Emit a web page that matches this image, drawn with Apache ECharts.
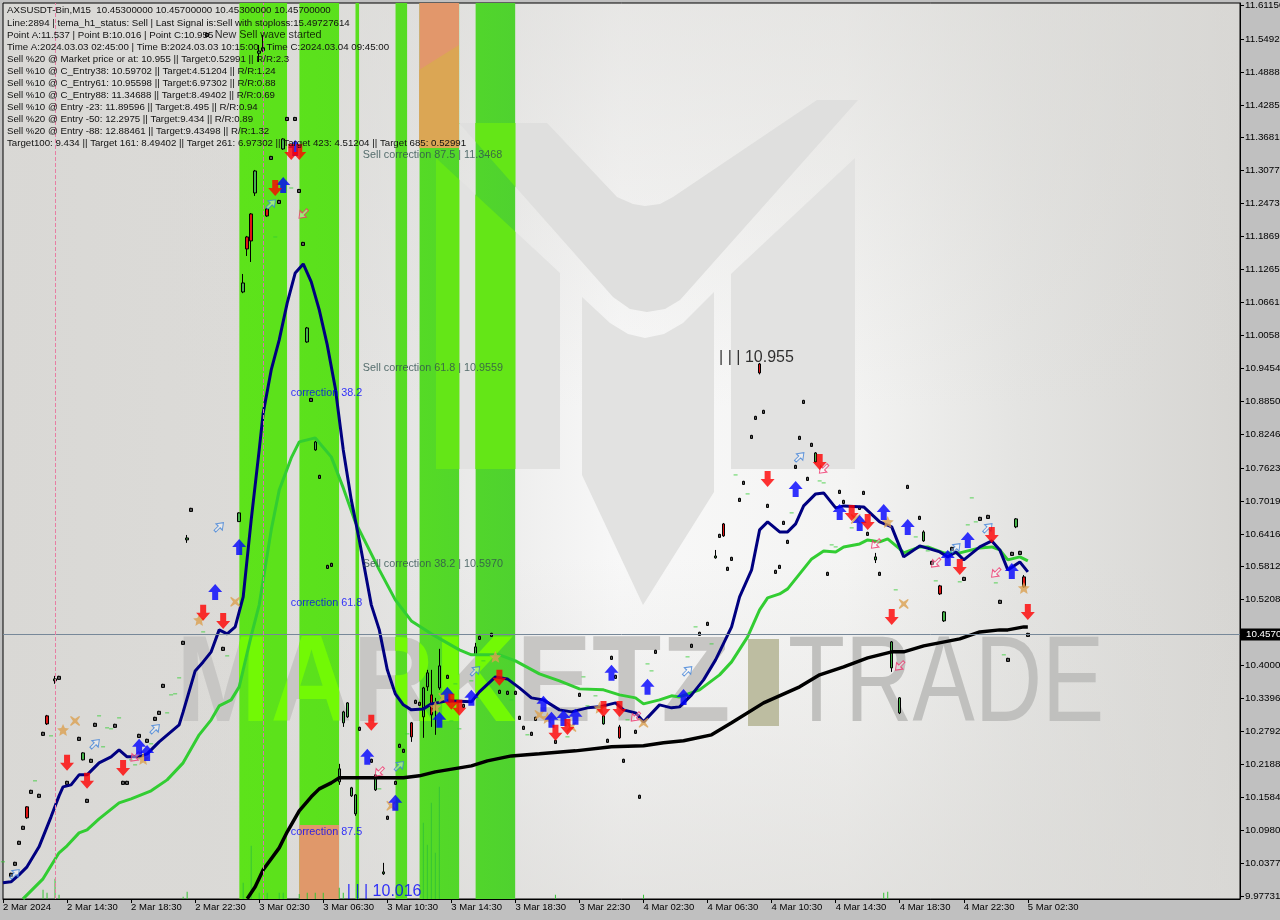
<!DOCTYPE html>
<html><head><meta charset="utf-8">
<script src="https://cdn.jsdelivr.net/npm/echarts@6/dist/echarts.min.js"></script>
<style>html,body{margin:0;padding:0;background:#c0c0c0}#c{width:1280px;height:920px}</style>
</head><body><div id="c"></div>
<script>
// ---------- data ----------
const barCount = 310;
const timeLabels = ['2 Mar 2024','2 Mar 14:30','2 Mar 18:30','2 Mar 22:30','3 Mar 02:30','3 Mar 06:30','3 Mar 10:30','3 Mar 14:30','3 Mar 18:30','3 Mar 22:30','4 Mar 02:30','4 Mar 06:30','4 Mar 10:30','4 Mar 14:30','4 Mar 18:30','4 Mar 22:30','5 Mar 02:30'];
const priceTicks = [11.6115,11.5492,11.4888,11.4285,11.3681,11.3077,11.2473,11.1869,11.1265,11.0661,11.0058,10.9454,10.8850,10.8246,10.7623,10.7019,10.6416,10.5812,10.5208,10.4000,10.3396,10.2792,10.2188,10.1584,10.0980,10.0377,9.97731];
const lastPrice = 10.457;
const infoLines = [
'AXSUSDT-Bin,M15  10.45300000 10.45700000 10.45300000 10.45700000',
'Line:2894 | tema_h1_status: Sell | Last Signal is:Sell with stoploss:15.49727614',
'Point A:11.537 | Point B:10.016 | Point C:10.955',
'Time A:2024.03.03 02:45:00 | Time B:2024.03.03 10:15:00 | Time C:2024.03.04 09:45:00',
'Sell %20 @ Market price or at: 10.955 || Target:0.52991 || R/R:2.3',
'Sell %10 @ C_Entry38: 10.59702 || Target:4.51204 || R/R:1.24',
'Sell %10 @ C_Entry61: 10.95598 || Target:6.97302 || R/R:0.88',
'Sell %10 @ C_Entry88: 11.34688 || Target:8.49402 || R/R:0.69',
'Sell %10 @ Entry -23: 11.89596 || Target:8.495 || R/R:0.94',
'Sell %20 @ Entry -50: 12.2975 || Target:9.434 || R/R:0.89',
'Sell %20 @ Entry -88: 12.88461 || Target:9.43498 || R/R:1.32',
'Target100: 9.434 || Target 161: 8.49402 || Target 261: 6.97302 || Target 423: 4.51204 || Target 685: 0.52991'];
const bandStart = [59,74,88,98,104,118];
const bandEnd   = [71,84,89,101,114,128];
const signalBars = [13,65];

const navyBars = [0,2,4,6,9,12,14,15,17,19,21,24,27,29,31,34,36,39,44,45,48,50,52,54,56,58,60,62,64,65,67,69,71,73,75,77,79,81,83,85,87,89,92,94,96,98,100,102,105,107,111,117,119,123,126,129,132,135,139,142,146,149,153,155,158,160,164,167,169,172,175,178,182,184,187,189,191,194,196,198,200,203,205,208,210,215,219,222,225,229,234,236,238,240,244,247,249,251,254,256];
const navyVals = [10.0015,10.0033,10.0161,10.0308,10.0675,10.1225,10.1610,10.1775,10.1812,10.1995,10.1995,10.2215,10.2325,10.2453,10.2325,10.2325,10.2380,10.2600,10.2912,10.3150,10.3902,10.4067,10.4251,10.4654,10.4581,10.4709,10.5259,10.6671,10.7955,10.8633,10.9422,10.9972,11.0651,11.1201,11.1366,11.1036,11.0522,10.9880,10.9092,10.7955,10.7038,10.6304,10.5113,10.4654,10.3921,10.3480,10.3279,10.3187,10.3205,10.3297,10.3352,10.3334,10.3517,10.3792,10.3755,10.3590,10.3407,10.3370,10.3187,10.3150,10.3224,10.3242,10.3315,10.3187,10.3132,10.2967,10.3279,10.3224,10.3242,10.3462,10.3737,10.4104,10.4709,10.5259,10.5754,10.6488,10.6635,10.6451,10.6451,10.6598,10.6928,10.7148,10.7166,10.6891,10.6928,10.6910,10.6635,10.6543,10.5993,10.6194,10.6084,10.5993,10.6084,10.5938,10.6176,10.6286,10.6121,10.5754,10.5901,10.5718];
const greenBars = [5,10,14,16,19,21,24,29,32,37,41,45,49,52,54,57,59,62,64,67,69,72,74,78,82,85,88,90,94,98,102,107,114,117,124,128,134,139,144,150,154,158,160,164,167,169,174,179,182,186,189,191,194,196,199,202,205,208,210,214,216,219,221,224,225,229,231,235,239,244,247,249,251,254,256];
const greenVals = [9.9721,10.0088,10.0565,10.0693,10.0931,10.0986,10.1188,10.1482,10.1555,10.1702,10.1903,10.2215,10.2729,10.3004,10.3260,10.3370,10.3609,10.4544,10.5113,10.6488,10.7221,10.7808,10.8102,10.8175,10.7827,10.7258,10.6635,10.6341,10.5754,10.5204,10.4819,10.4581,10.4287,10.4196,10.4196,10.4086,10.3847,10.3719,10.3572,10.3554,10.3462,10.3407,10.3297,10.3370,10.3444,10.3425,10.3554,10.3829,10.4067,10.4526,10.5021,10.5241,10.5314,10.5406,10.5681,10.5956,10.6103,10.6084,10.6176,10.6231,10.6304,10.6268,10.6323,10.6139,10.6066,10.6176,10.6176,10.6066,10.6066,10.6158,10.6176,10.6121,10.5938,10.5993,10.5919];
const blackBars = [61,63,65,69,71,74,77,79,82,84,89,100,104,108,117,121,127,134,143,152,160,165,170,177,182,190,199,204,210,216,222,225,230,239,244,249,251,255,256];
const blackVals = [9.9721,9.9941,10.0253,10.0656,10.0950,10.1335,10.1592,10.1738,10.1848,10.1940,10.1940,10.1940,10.1977,10.2050,10.2160,10.2252,10.2343,10.2380,10.2435,10.2509,10.2527,10.2582,10.2619,10.2729,10.2949,10.3315,10.3609,10.3829,10.3976,10.4141,10.4251,10.4251,10.4361,10.4489,10.4617,10.4654,10.4654,10.4709,10.4709];

// bar, open, close, low, high
const candlesA = [
[6,10.1408,10.1207,10.1190,10.1420],[11,10.3077,10.2930,10.2910,10.3095],[13,10.3720,10.3755,10.3665,10.3810],[20,10.2270,10.2398,10.2260,10.2410],[46,10.6305,10.6340,10.6250,10.6395],
[59,10.6640,10.6800,10.6640,10.6810],[60,11.0852,11.1017,11.0830,11.1182],[61,11.1861,11.1641,11.1512,11.1880],[62,11.2283,11.1788,11.1402,11.2300],[63,11.2668,11.3071,11.2613,11.3090],[64,11.5230,11.5270,11.5070,11.5382],[65,11.5280,11.5330,11.5260,11.5565],[66,11.2374,11.2246,11.2230,11.2390],
[70,11.3475,11.3658,11.3460,11.3670],[76,10.9935,11.0192,10.9920,11.0210],[78,10.7955,10.8102,10.7940,10.8120],
[84,10.1867,10.2105,10.1812,10.2197],[85,10.2949,10.3150,10.2875,10.3170],[86,10.3059,10.3315,10.3040,10.3330],[87,10.1610,10.1757,10.1590,10.1775],[88,10.1280,10.1628,10.1243,10.1640],[93,10.1720,10.1995,10.1700,10.2010],[95,10.0180,10.0215,10.0160,10.0381],
[102,10.2949,10.2692,10.2600,10.2965],[105,10.3059,10.3590,10.2674,10.3609],[106,10.3609,10.3866,10.3535,10.3921],[107,10.3462,10.3095,10.2875,10.3921],[108,10.3279,10.3315,10.2729,10.3407],[109,10.3590,10.3994,10.3554,10.4306],
[118,10.4196,10.4342,10.4180,10.4416],[150,10.2930,10.3077,10.2915,10.3090],[154,10.2875,10.2674,10.2655,10.2912],
[178,10.5975,10.6010,10.5960,10.6120],[180,10.6598,10.6378,10.6360,10.6615],[189,10.9532,10.9367,10.9340,10.9550],
[203,10.7735,10.7900,10.7715,10.7915],[218,10.5938,10.5993,10.5880,10.6066],[222,10.3957,10.4434,10.3884,10.4450],[224,10.3132,10.3407,10.3110,10.3420],[230,10.6286,10.6451,10.6270,10.6480],[234,10.5461,10.5314,10.5295,10.5480],[235,10.4819,10.4984,10.4800,10.5000],
[253,10.6543,10.6690,10.6520,10.6705],[255,10.5626,10.5443,10.5425,10.5660]];
const tinyBars = [2,3,4,5,7,9,10,14,16,19,21,22,23,28,30,31,34,36,38,39,40,45,47,51,55,67,69,71,73,74,75,77,79,81,82,89,92,96,98,99,100,103,104,111,115,119,122,124,126,128,129,130,132,133,138,144,151,152,153,155,158,159,163,172,174,176,179,181,182,184,185,187,188,190,191,193,194,195,196,198,199,200,201,202,206,209,210,214,215,216,219,226,229,232,237,240,244,246,249,251,252,254,256];
const tinyVals = [10.0161,10.0363,10.0748,10.1023,10.1683,10.1610,10.2747,10.3774,10.1848,10.2655,10.1518,10.2252,10.2912,10.2894,10.1848,10.1848,10.2710,10.2619,10.3022,10.3132,10.3627,10.4416,10.6855,11.5565,10.4306,11.3310,11.2503,11.4025,11.4025,11.2704,11.1733,10.8872,10.7460,10.5809,10.5846,10.2839,10.2252,10.1207,10.1848,10.2527,10.2435,10.3334,10.3297,10.3792,10.3260,10.4507,10.4562,10.3517,10.3499,10.3499,10.3040,10.2857,10.2747,10.3022,10.2600,10.3462,10.2619,10.4141,10.3792,10.2252,10.2784,10.1592,10.4251,10.4361,10.4581,10.4764,10.6378,10.5773,10.5956,10.7038,10.7350,10.8193,10.8542,10.8652,10.6928,10.5718,10.5809,10.6616,10.6268,10.7643,10.8175,10.8835,10.7423,10.8047,10.5681,10.7185,10.7001,10.6891,10.7166,10.6415,10.5681,10.7276,10.6708,10.5883,10.6139,10.5589,10.6690,10.6726,10.5168,10.4104,10.6048,10.6066,10.4562];
const volumeBars = [10,11,13,14,45,46,60,62,64,66,69,70,74,76,78,80,84,85,105,106,107,108,109,138,160,220,221];
const volumeTops = [9.9886,9.9831,10.0088,9.9794,9.9758,9.9849,10.0015,10.0693,9.9831,9.9831,9.9831,9.9831,9.9812,9.9831,9.9831,9.9831,9.9923,9.9831,10.1115,10.0711,10.1482,10.0565,10.1775,9.9794,9.9794,9.9831,9.9849];

const sellBars = [16,21,30,50,55,68,72,74,92,112,114,124,138,141,150,154,191,204,212,216,222,239,247,256];
const sellVals = [10.2215,10.1885,10.2123,10.4966,10.4819,11.2759,11.3420,11.3420,10.2949,10.3334,10.3224,10.3774,10.2765,10.2875,10.3205,10.3205,10.7423,10.7735,10.6800,10.6635,10.4892,10.5809,10.6396,10.4984];
const buyBars = [34,36,53,59,70,73,91,98,109,111,117,135,137,140,143,152,161,170,198,209,214,220,226,236,241,252];
const buyVals = [10.2509,10.2398,10.5351,10.6176,11.2814,11.3493,10.2325,10.1482,10.3004,10.3462,10.3407,10.3297,10.3004,10.3040,10.3059,10.3866,10.3609,10.3425,10.7240,10.6818,10.6616,10.6818,10.6543,10.5974,10.6304,10.5736];
const hollowUpBars = [3,23,38,54,67,99,118,171,199,238,246];
const hollowUpVals = [10.0180,10.2564,10.2839,10.6543,11.2466,10.2160,10.3902,10.3902,10.7826,10.6158,10.6525];
const hollowDownBars = [33,75,94,158,205,218,224,233,248];
const hollowDownVals = [10.2325,11.2283,10.2050,10.3059,10.7606,10.6231,10.3994,10.5883,10.5699];
const starBars = [15,35,49,108,123,136,149,221,255];
const starVals = [10.2820,10.2288,10.4837,10.3242,10.4159,10.3040,10.3224,10.6635,10.5424];
const crossBars = [18,58,110,97,134,142,160,213,225];
const crossVals = [10.2985,10.5168,10.3407,10.1427,10.3095,10.2875,10.2949,10.6690,10.5131];
const dashBars = [0,8,12,24,26,27,25,29,32,33,37,41,42,43,44,50,56,68,72,94,101,113,112,114,117,120,127,131,141,145,148,146,156,161,162,171,173,177,183,186,197,204,205,207,208,212,223,228,231,233,239,241,242,243,248,250];
const dashVals = [10.0400,10.1885,10.2710,10.3077,10.2857,10.2839,10.2509,10.3040,10.2270,10.2178,10.2564,10.3132,10.3462,10.3481,10.3774,10.4617,10.4177,11.1861,11.2759,10.1738,10.2747,10.3664,10.2985,10.2839,10.3719,10.4086,10.3370,10.2729,10.2692,10.3792,10.3444,10.3260,10.3004,10.4030,10.3902,10.4159,10.4709,10.4397,10.7496,10.7148,10.6800,10.7386,10.7350,10.6213,10.6176,10.6525,10.5388,10.6359,10.6103,10.5553,10.5535,10.6580,10.7075,10.6635,10.5516,10.4196];

const correctionNames = ['Sell correction 87.5 | 11.3468','Sell correction 61.8 | 10.9559','Sell correction 38.2 | 10.5970'];
const correctionVals = [11.3468,10.9559,10.5970];
const retraceNames = ['correction 38.2','correction 61.8','correction 87.5'];
const retraceVals = [10.911,10.526,10.106];

// ---------- page geometry / decoration ----------
const G = {left:3, top:3, right:40, bottom:21};
const V_SHAPE = [[459,123],[547,123],[617,197],[633,204],[645,206],[660,204],[673,197],[817,100],[858,100],[680,300],[665,309],[647,312],[630,309],[613,297]];
const PILLARS = [
 [[436,158],[560,273],[560,469],[436,469]],
 [[582,297],[610,323],[628,334],[645,338],[664,334],[683,323],[714,292],[714,492],[643,605],[582,475]],
 [[731,274],[855,158],[855,469],[731,469]]];
const WORD_A = {text:'MARKETZ', x:176, y:626, sx:0.93, font:'bold 122px "Liberation Sans"'};
const WORD_B = {text:'TRADE', x:788, y:626, sx:0.765, font:'122px "Liberation Sans"'};

const pairs = (xs, ys) => xs.map((x, i) => [x, ys[i]]);
const categories = Array.from({length: barCount}, (_, i) => String(i));
const tinyRows = tinyBars.map((b, i) => [b, tinyVals[i] - 0.0028, tinyVals[i] + 0.0028, tinyVals[i] - 0.0038, tinyVals[i] + 0.0038]);

const ARROW_UP = 'path://M4 16 V8 H0 L7 0 L14 8 H10 V16 Z';
const ARROW_DN = 'path://M4 0 V8 H0 L7 16 L14 8 H10 V0 Z';
const HOLLOW = 'path://M5 16 V8 H0 L7 0 L14 8 H9 V16 Z';
const CROSS = 'path://M1 0 L6 3.5 L11 0 L12 1 L8.5 6 L12 11 L11 12 L6 8.5 L1 12 L0 11 L3.5 6 L0 1 Z';

function polygonEls(fill) {
  return [V_SHAPE].concat(PILLARS).map(p => ({type:'polygon', shape:{points:p}, style:{fill}}));
}
function wordEl(w, fill) {
  return {type:'text', x:w.x, y:w.y, scaleX:w.sx, scaleY:1, style:{text:w.text, font:w.font, fill, textBaseline:'top', textAlign:'left'}};
}

function renderBand(params, api) {
  const x0 = api.coord([api.value(0), 10.5])[0];
  const x1 = api.coord([api.value(1), 10.5])[0];
  const t = G.top, h = 896;
  return {
    type:'group',
    clipPath:{type:'rect', shape:{x:x0, y:t, width:x1 - x0, height:h}},
    children:[
      {type:'rect', shape:{x:x0, y:t, width:x1 - x0, height:h},
       style:{fill:{type:'linear', global:true, x:239, y:0, x2:515, y2:0, colorStops:[{offset:0,color:'#5de31a'},{offset:0.4,color:'#5ae01d'},{offset:0.8,color:'#52d72a'},{offset:1,color:'#4fd22f'}]}}},
      ...polygonEls('#64e617'),
      wordEl(WORD_A, '#72f905'),
      {type:'rect', shape:{x:419, y:3, width:40, height:145}, style:{fill:'#e2976b'}},
      {type:'polygon', shape:{points:[[419,70],[459,45],[459,148],[419,148]]}, style:{fill:'#dba654'}},
      {type:'rect', shape:{x:299, y:825, width:40, height:74}, style:{fill:'#e0986a'}}
    ]
  };
}

const symbolSeries = (name, xs, ys, extra) => Object.assign({
  type:'scatter', name, data:pairs(xs, ys), silent:true, animation:false, z:6
}, extra);

const textSeries = (data, color, font, size, z) => ({
  type:'scatter', silent:true, animation:false, symbolSize:1, z:z || 5,
  itemStyle:{color:'transparent'},
  data,
  label:{show:true, position:[0,0], align:'left', verticalAlign:'top', formatter:'{b}', color, fontFamily:font, fontSize:size, lineHeight:size + 2}
});

const bgElements = [
  {type:'rect', z:-20, silent:true, shape:{x:3,y:3,width:1237,height:896},
   style:{fill:{type:'linear',x:0,y:0,x2:1,y2:0,colorStops:[{offset:0,color:'#d9d8d5'},{offset:0.2,color:'#dcdbd8'},{offset:0.34,color:'#e6e6e5'},{offset:0.5,color:'#f8f8f8'},{offset:0.68,color:'#f4f4f3'},{offset:0.82,color:'#e4e4e2'},{offset:1,color:'#d6d5d2'}]}}},
  {type:'rect', z:-19, silent:true, shape:{x:3,y:3,width:1237,height:896},
   style:{fill:{type:'linear',x:0,y:0,x2:0,y2:1,colorStops:[{offset:0,color:'rgba(218,217,214,0.55)'},{offset:0.45,color:'rgba(218,217,214,0)'},{offset:0.62,color:'rgba(218,217,214,0)'},{offset:1,color:'rgba(218,217,214,0.65)'}]}}},
  ...[V_SHAPE].concat(PILLARS).map((p, i) => ({type:'polygon', z:-18, silent:true, shape:{points:p}, style:{fill: i === 0 ? '#dfdfde' : '#e2e2e1'}})),
  {type:'text', z:-17, silent:true, x:WORD_A.x, y:WORD_A.y, scaleX:WORD_A.sx, style:{text:WORD_A.text, font:WORD_A.font, fill:'#c7c6c4', textBaseline:'top'}},
  {type:'text', z:-17, silent:true, x:WORD_B.x, y:WORD_B.y, scaleX:WORD_B.sx, style:{text:WORD_B.text, font:WORD_B.font, fill:'#c0c0be', textBaseline:'top'}},
  {type:'rect', z:-17, silent:true, shape:{x:748,y:639,width:31,height:87}, style:{fill:'#bdbda1'}}
];
const headerYs = [5.2,18.5,30.2,42.2,54.2,66.2,78.2,90.2,102.2,114.2,126.2,138.2];
const headerEls = infoLines.map((t, i) => ({type:'text', z:100, silent:true, x:7, y:headerYs[i],
  style:{text:t, font:'9.7px "Liberation Sans"', fill:'#111', textBaseline:'top'}}));

const chart = echarts.init(document.getElementById('c'), null, {renderer:'canvas'});
chart.setOption({
  animation:false,
  backgroundColor:'#c0c0c0',
  grid:{left:G.left, top:G.top, right:G.right, bottom:G.bottom, show:true, borderColor:'#000', borderWidth:1, backgroundColor:'transparent', containLabel:false, outerBoundsMode:'none'},
  xAxis:{type:'category', data:categories, boundaryGap:false,
    axisLine:{show:true, lineStyle:{color:'#000'}},
    axisTick:{show:true, length:4, interval:(i) => i % 16 === 0 && i <= 256, lineStyle:{color:'#000'}},
    axisLabel:{show:true, margin:3, interval:(i) => i % 16 === 0 && i <= 256, align:'left', hideOverlap:false,
      formatter:(v, i) => timeLabels[i / 16] || '', color:'#000', fontFamily:'Liberation Sans', fontSize:9.5}},
  yAxis:{type:'value', position:'right', min:9.9718, max:11.6152, scale:true,
    splitLine:{show:false},
    axisLine:{show:true, onZero:false, lineStyle:{color:'#000'}},
    axisTick:{show:true, length:4, customValues:priceTicks, lineStyle:{color:'#000'}},
    axisLabel:{show:true, margin:5, customValues:priceTicks, hideOverlap:false, showMinLabel:true, showMaxLabel:true,
      formatter:(v) => v.toFixed(5), color:'#000', fontFamily:'Liberation Sans', fontSize:9.8}},
  graphic:{elements:bgElements.concat(headerEls)},
  series:[
    {type:'custom', name:'bands', z:1, silent:true, clip:false, animation:false, renderItem:renderBand,
     data:pairs(bandStart, bandEnd), encode:{x:[0,1]}, dimensions:['a','b']},
    {type:'bar', name:'volume', z:2, barWidth:1, silent:true, itemStyle:{color:'#35c435'}, data:pairs(volumeBars, volumeTops)},
    {type:'candlestick', name:'priceA', z:3, barWidth:3, silent:true, encode:{x:0, y:[1,2,3,4]}, data:candlesA,
     itemStyle:{color:'#46b24a', color0:'#e01414', borderColor:'#000', borderColor0:'#000', borderWidth:1}},
    {type:'candlestick', name:'priceB', z:3, barWidth:3, silent:true, encode:{x:0, y:[1,2,3,4]}, data:tinyRows,
     itemStyle:{color:'#5a5a5a', color0:'#5a5a5a', borderColor:'#000', borderColor0:'#000', borderWidth:1}},
    {type:'line', name:'slow', z:4, data:pairs(blackBars, blackVals), showSymbol:false, silent:true, lineStyle:{color:'#000', width:3.5}},
    {type:'line', name:'mid', z:4, data:pairs(greenBars, greenVals), showSymbol:false, silent:true, lineStyle:{color:'#32cd32', width:3}},
    {type:'line', name:'fast', z:4, data:pairs(navyBars, navyVals), showSymbol:false, silent:true, lineStyle:{color:'#000080', width:3},
     markLine:{silent:true, symbol:'none', animation:false, precision:4, data:[
       {yAxis:lastPrice, lineStyle:{color:'#778899', width:1, type:'solid'},
        label:{show:true, position:'end', distance:1, formatter:'10.45700', color:'#fff', backgroundColor:'#000', padding:[1,0,1,5], fontFamily:'Liberation Sans', fontSize:9.8}},
       {xAxis:signalBars[0], lineStyle:{color:'#e77fa3', width:1, type:'dashed'}, label:{show:false}},
       {xAxis:signalBars[1], lineStyle:{color:'#d873b0', width:1, type:'dashed'}, label:{show:false}}
     ]}},
    symbolSeries('dash', dashBars, dashVals, {symbol:'rect', symbolSize:[4,1], itemStyle:{color:'#32cd32'}}),
    symbolSeries('star', starBars, starVals, {symbol:'path://M6 0 L7.8 4.2 L12 4.6 L8.8 7.4 L9.8 12 L6 9.6 L2.2 12 L3.2 7.4 L0 4.6 L4.2 4.2 Z', symbolSize:12, itemStyle:{color:'#dba050'}}),
    symbolSeries('cross', crossBars, crossVals, {symbol:CROSS, symbolSize:10, itemStyle:{color:'#dba050'}}),
    symbolSeries('hollowUp', hollowUpBars, hollowUpVals, {symbol:HOLLOW, symbolSize:[9,12], symbolRotate:-45, itemStyle:{color:'rgba(255,255,255,0.5)', borderColor:'#3c80d8', borderWidth:1}}),
    symbolSeries('hollowDown', hollowDownBars, hollowDownVals, {symbol:HOLLOW, symbolSize:[9,12], symbolRotate:135, itemStyle:{color:'rgba(255,255,255,0.5)', borderColor:'#f0306a', borderWidth:1}}),
    symbolSeries('buy', buyBars, buyVals, {symbol:ARROW_UP, symbolSize:[14,16], itemStyle:{color:'#0000ff'}}),
    symbolSeries('sell', sellBars, sellVals, {symbol:ARROW_DN, symbolSize:[14,16], itemStyle:{color:'#ff0000'}}),
    textSeries(correctionNames.map((n, i) => ({name:n, value:[90, correctionVals[i]]})), '#2f4f4f', 'Liberation Sans', 10.8),
    textSeries(retraceNames.map((n, i) => ({name:n, value:[72, retraceVals[i]]})), '#0000ff', 'Liberation Sans', 10.8),
    textSeries([{name:'| | | 10.955', value:[179, 10.9805]}], '#000', 'Liberation Sans', 16),
    textSeries([{name:'| | | 10.016', value:[86, 10.0015]}], '#0000ff', 'Liberation Sans', 16),
    textSeries([{name:'New Sell wave started', value:[53, 11.5680]}], '#000', 'Liberation Sans', 10.8)
  ]
});
</script></body></html>
